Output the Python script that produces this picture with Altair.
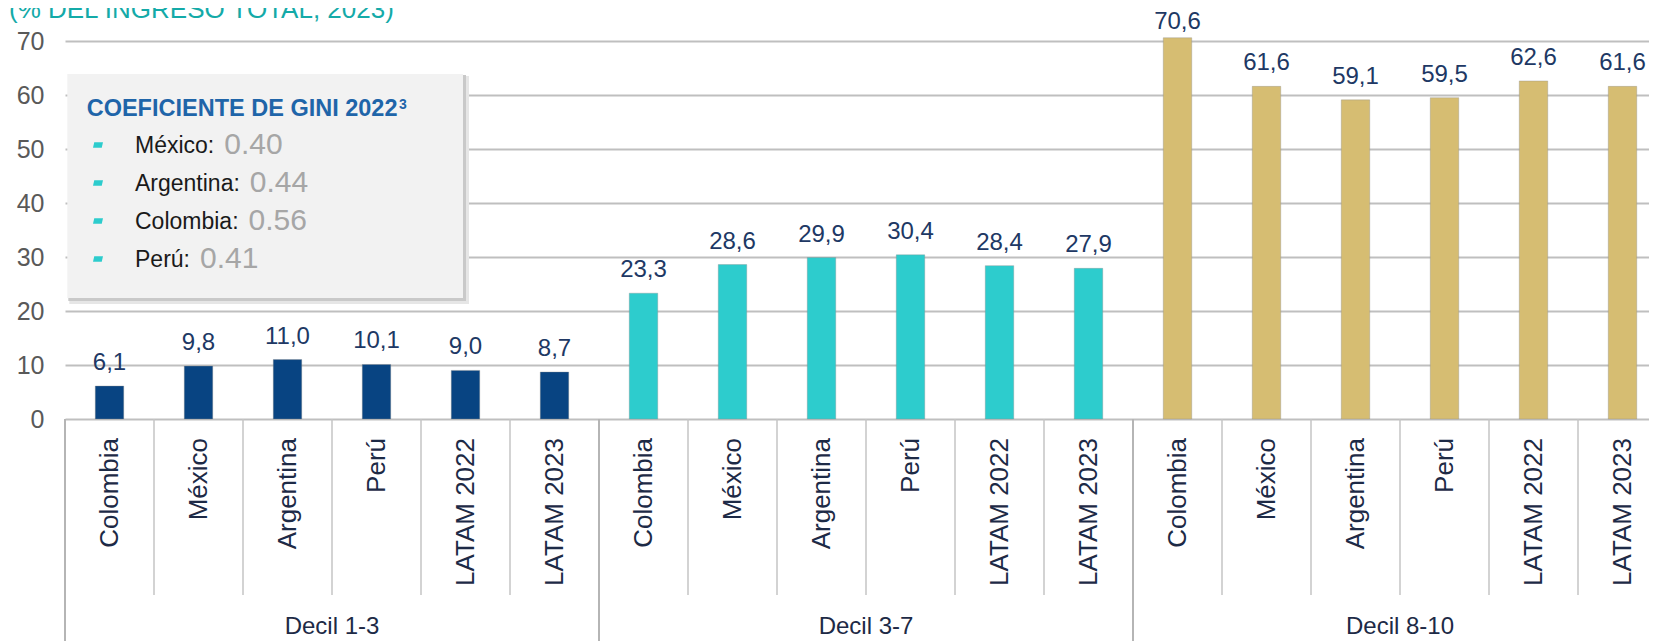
import altair as alt
import pandas as pd

# ---------------- data ----------------
groups = ["Decil 1-3", "Decil 3-7", "Decil 8-10"]
countries = ["Colombia", "México", "Argentina", "Perú", "LATAM 2022", "LATAM 2023"]
decil_1_3 = [6.1, 9.8, 11.0, 10.1, 9.0, 8.7]
decil_3_7 = [23.3, 28.6, 29.9, 30.4, 28.4, 27.9]
decil_8_10 = [70.6, 61.6, 59.1, 59.5, 62.6, 61.6]
group_colors = ["#084482", "#2dcccd", "#d6bd72"]
y_ticks = [0, 10, 20, 30, 40, 50, 60, 70]

gini_countries = ["México", "Argentina", "Colombia", "Perú"]
gini_values = [0.40, 0.44, 0.56, 0.41]
gini_title = "COEFICIENTE DE GINI 2022"
gini_sup = "3"
chart_title = "(% DEL INGRESO TOTAL, 2023)"

FONT = "Liberation Sans"

series = [decil_1_3, decil_3_7, decil_8_10]
rows = []
keys = []
for g, vals in zip(groups, series):
    for c, v in zip(countries, vals):
        k = f"{g}|{c}"
        keys.append(k)
        rows.append({"group": g, "country": c, "value": v, "key": k})
df = pd.DataFrame(rows)

# ---------------- layout ----------------
PX_PER_UNIT = 5.4
H = 411                       # plot height (page y 8 .. 419)
YMAX = H / PX_PER_UNIT
W = 1602                      # 18 bands of ~89 px
PAD_LEFT = 57
PAD_RIGHT = 1641 - PAD_LEFT - W

xscale = alt.Scale(domain=keys, paddingInner=0, paddingOuter=0)

# Arial / Liberation Sans advance widths (em)
AW = {"M": .833, "é": .556, "x": .5, "i": .222, "c": .5, "o": .556, ":": .278,
      "A": .667, "r": .333, "g": .556, "e": .556, "n": .556, "t": .278, "a": .556,
      "C": .722, "l": .222, "m": .833, "b": .556, "P": .667, "ú": .556, " ": .278}
AWB = {"C": .722, "O": .778, "E": .667, "F": .611, "I": .278, "N": .722, "T": .611,
       "D": .722, "G": .778, " ": .278, "2": .556, "0": .556}


def tw(s, size, table):
    return sum(table.get(ch, .556) for ch in s) * size


# ---------------- separators ----------------
sep_df = pd.DataFrame({"key": keys, "first": [k.split("|")[1] == countries[0] for k in keys]})

cat_sep = alt.Chart(sep_df).transform_filter("!datum.first").mark_rule(
    color="#c4c4c4", strokeWidth=1.5
).encode(
    x=alt.X("key:N", bandPosition=0, scale=xscale, axis=None),
    y=alt.value(H), y2=alt.value(587),
)
grp_sep = alt.Chart(sep_df).transform_filter("datum.first").mark_rule(
    color="#b5b5b5", strokeWidth=2
).encode(
    x=alt.X("key:N", bandPosition=0, scale=xscale, axis=None),
    y=alt.value(H), y2=alt.value(645),
)

# ---------------- bars ----------------
bars = alt.Chart(df).mark_bar(
    width={"band": 0.32}, stroke="#8c8c8c", strokeWidth=0.6, strokeOpacity=0.6
).encode(
    x=alt.X("key:N", scale=xscale, axis=None),
    y=alt.Y("value:Q", scale=alt.Scale(domain=[0, YMAX], nice=False, zero=True), title=None,
            axis=alt.Axis(values=y_ticks, labelFontSize=25, labelFont=FONT,
                          labelColor="#595959", labelPadding=21, ticks=False, tickSize=0,
                          domain=False, grid=True, gridColor="#bfbfbf", gridWidth=2)),
    color=alt.Color("group:N", scale=alt.Scale(domain=groups, range=group_colors), legend=None),
)

# rotated category labels under each bar
cat_labels = alt.Chart(df).mark_text(
    angle=270, align="right", baseline="middle", fontSize=26, font=FONT, color="#1d2a46"
).encode(
    x=alt.X("key:N", scale=xscale, axis=None),
    y=alt.value(H + 19),
    text="country:N",
)

labels = alt.Chart(df).transform_calculate(
    lab="replace(format(datum.value, '.1f'), '.', ',')",
    ly="min(datum.value, 69.3)",
).mark_text(fontSize=24, font=FONT, color="#203864", baseline="alphabetic", dy=-16).encode(
    x=alt.X("key:N", scale=xscale, axis=None),
    y=alt.Y("ly:Q"),
    text="lab:N",
)

# group labels, centred on the group (boundary between 3rd and 4th bar)
gdf = pd.DataFrame({"group": groups, "key": [f"{g}|{countries[3]}" for g in groups]})
group_labels = alt.Chart(gdf).mark_text(
    fontSize=24, font=FONT, color="#1d2a46", baseline="middle"
).encode(
    x=alt.X("key:N", bandPosition=0, scale=xscale, axis=None),
    y=alt.value(618.5),
    text="group:N",
)

# ---------------- Gini panel ----------------
BX0, BX1, BY0, BY1 = 2.3, 398, 66, 290
one = pd.DataFrame({"a": [1]})
shadow2 = alt.Chart(one).mark_rect(color="#e6e6e6").encode(
    x=alt.value(BX0 + 2), x2=alt.value(BX1 + 6), y=alt.value(BY0 + 2), y2=alt.value(BY1 + 6))
shadow1 = alt.Chart(one).mark_rect(color="#c9c9c9").encode(
    x=alt.value(BX0 + 1), x2=alt.value(BX1 + 3), y=alt.value(BY0 + 1), y2=alt.value(BY1 + 3))
box = alt.Chart(one).mark_rect(color="#f2f2f2").encode(
    x=alt.value(BX0), x2=alt.value(BX1), y=alt.value(BY0), y2=alt.value(BY1))

TX, TY, TS = 21.7, 108, 23.5
gt = alt.Chart(pd.DataFrame({"t": [gini_title]})).mark_text(
    fontSize=TS, font=FONT, fontWeight="bold", color="#1f65a9", align="left",
    baseline="alphabetic").encode(x=alt.value(TX), y=alt.value(TY), text="t:N")
gs = alt.Chart(pd.DataFrame({"t": [gini_sup]})).mark_text(
    fontSize=14, font=FONT, fontWeight="bold", color="#1f65a9", align="left",
    baseline="alphabetic").encode(x=alt.value(TX + tw(gini_title, TS, AWB) + 1.5),
                                  y=alt.value(100.5), text="t:N")

panel_layers = [shadow2, shadow1, box, gt, gs]
LX, LS, VS = 70, 23, 30
for i, (c, v) in enumerate(zip(gini_countries, gini_values)):
    by = 145 + 38 * i
    rdf = pd.DataFrame({"lab": [c + ":"], "val": [v]})
    bullet = alt.Chart(rdf).mark_point(
        shape="M-0.75,-0.55L1,-0.55L0.75,0.55L-1,0.55Z", filled=True, opacity=1,
        color="#2dcccd", size=100).encode(x=alt.value(33), y=alt.value(by - 8))
    lt = alt.Chart(rdf).mark_text(fontSize=LS, font=FONT, color="#1a1a1a", align="left",
                                  baseline="alphabetic").encode(
        x=alt.value(LX), y=alt.value(by), text="lab:N")
    vt = alt.Chart(rdf).mark_text(fontSize=VS, font=FONT, color="#a6a6a6", align="left",
                                  baseline="alphabetic").encode(
        x=alt.value(LX + tw(c + ":", LS, AW) + 10), y=alt.value(by + 0.5),
        text=alt.Text("val:Q", format=".2f"))
    panel_layers += [bullet, lt, vt]

# ---------------- chart title (cut at the top like the source) ----------------
title = alt.Chart(pd.DataFrame({"t": [chart_title]})).mark_text(
    fontSize=26, font=FONT, color="#14aaa8", align="left", baseline="alphabetic"
).encode(x=alt.value(-56), y=alt.value(10), text="t:N")

chart = alt.layer(
    grp_sep, cat_sep, bars, labels, cat_labels, group_labels, *panel_layers, title
).properties(
    width=W, height=H,
    padding={"left": PAD_LEFT, "top": 0, "right": PAD_RIGHT, "bottom": 222},
    autosize=alt.AutoSizeParams(type="none"),
    background="white",
).configure_view(stroke=None)

chart.save("out.html", embed_options={"renderer": "svg", "actions": False})
